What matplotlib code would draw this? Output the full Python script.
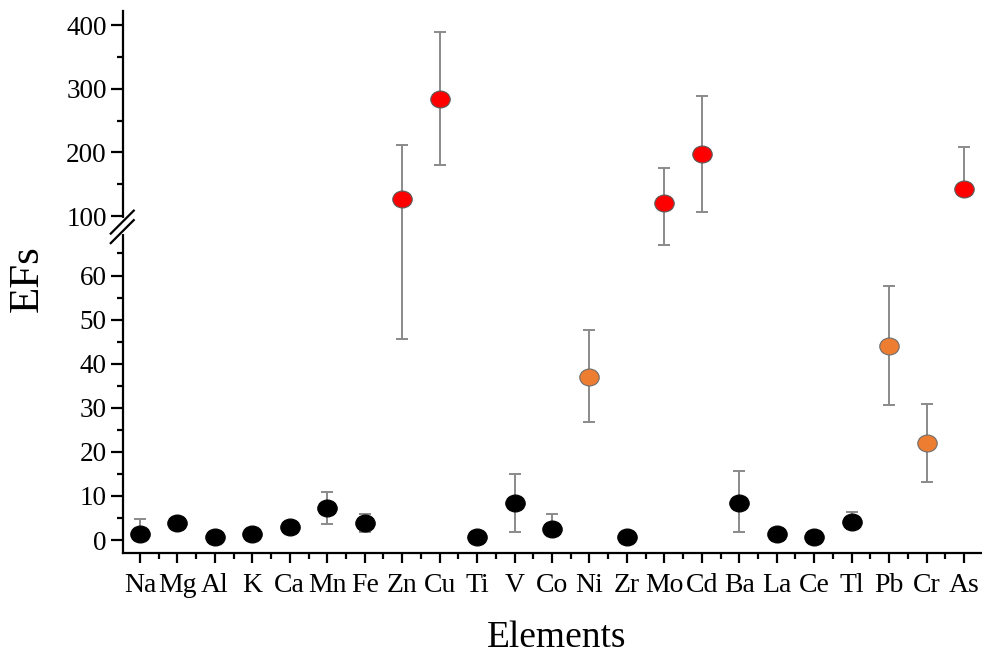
import numpy as np
import matplotlib
matplotlib.use('Agg')
import matplotlib.pyplot as plt
from matplotlib.path import Path
from matplotlib.ticker import FixedLocator

plt.rcParams['font.family'] = ['Liberation Serif', 'DejaVu Serif']

elements = ['Na', 'Mg', 'Al', 'K', 'Ca', 'Mn', 'Fe', 'Zn', 'Cu', 'Ti', 'V', 'Co',
            'Ni', 'Zr', 'Mo', 'Cd', 'Ba', 'La', 'Ce', 'Tl', 'Pb', 'Cr', 'As']
efMean = [1.4, 3.9, 0.75, 1.35, 3.0, 7.2, 3.8, 126.7, 283.8, 0.75, 8.5, 2.5,
          37.0, 0.75, 120.9, 197.8, 8.3, 1.3, 0.75, 4.0, 43.9, 21.9, 142.4]
errLow = [0, 0, 0, 0, 0, 3.6, 2.0, 81.0, 104.0, 0, 6.6, 0,
          10.2, 0, 54.0, 91.0, 6.5, 0, 0, 0, 13.3, 8.7, 0]
errHigh = [3.3, 0, 0, 0, 0, 3.8, 2.0, 85.0, 106.0, 0, 6.5, 3.3,
           10.6, 0, 55.0, 91.0, 7.4, 0, 0, 2.35, 13.8, 8.9, 65.5]
# enrichment level: 0 = low, 1 = significant, 2 = very high
level = [0, 0, 0, 0, 0, 0, 0, 2, 2, 0, 0, 0,
         1, 0, 2, 2, 0, 0, 0, 0, 1, 1, 2]

levelFace = {0: 'black', 1: '#ED7D31', 2: '#FF0000'}
levelEdge = {0: 'black', 1: '#6e6e6e', 2: '#5a5a5a'}

# broken y axis: linear up to the break, compressed above it
BREAK = 69.0
SQUEEZE = 0.1444


def forward(v):
    v = np.asarray(v, dtype=float)
    return np.where(v <= BREAK, v, BREAK + (v - BREAK) * SQUEEZE)


def inverse(t):
    t = np.asarray(t, dtype=float)
    return np.where(t <= BREAK, t, BREAK + (t - BREAK) / SQUEEZE)


# slightly flattened circle marker
circle = Path.unit_circle()
ellipse = Path(circle.vertices * np.array([1.0, 0.87]), circle.codes)

fig = plt.figure(figsize=(9.82, 6.56), dpi=100)
ax = fig.add_axes([0.125, 0.157, 0.875, 0.826])
ax.set_yscale('function', functions=(forward, inverse))

x = np.arange(len(elements))
ax.errorbar(x, efMean, yerr=[errLow, errHigh], fmt='none', ecolor='#8a8a8a',
            elinewidth=1.4, capsize=4, capthick=1.4, zorder=2)
for lvl in (0, 1, 2):
    idx = [i for i in range(len(elements)) if level[i] == lvl]
    ax.plot(x[idx], [efMean[i] for i in idx], linestyle='none', marker=ellipse,
            markersize=14, markerfacecolor=levelFace[lvl],
            markeredgecolor=levelEdge[lvl], markeredgewidth=0.8, zorder=3)

ax.set_xlim(-0.46, 22.48)
ax.set_ylim(-2.95, 422)

ax.set_xticks(x)
ax.set_xticklabels(elements)
ax.xaxis.set_minor_locator(FixedLocator(x[:-1] + 0.5))
ax.yaxis.set_major_locator(FixedLocator([0, 10, 20, 30, 40, 50, 60, 100, 200, 300, 400]))
ax.yaxis.set_minor_locator(FixedLocator([5, 15, 25, 35, 45, 55, 65, 150, 250, 350]))
ax.yaxis.set_major_formatter(plt.FuncFormatter(lambda v, p: '%d' % round(v)))

ax.tick_params(axis='x', which='major', length=7.5, width=1.6, labelsize=20, pad=7)
ax.tick_params(axis='x', which='minor', length=4, width=1.6)
ax.tick_params(axis='y', which='major', length=8.5, width=1.6, labelsize=19.5, pad=3)
ax.tick_params(axis='y', which='minor', length=4, width=1.6)

for side in ('top', 'right'):
    ax.spines[side].set_visible(False)
for side in ('left', 'bottom'):
    ax.spines[side].set_linewidth(1.6)

# break marks on the y axis
brk = ax.transData.transform((0, 100))[1]
yb = fig.transFigure.inverted().transform((0, brk))[1]
x0 = 0.125
def px(dx, dy):
    return x0 + dx / 982.0, yb + dy / 656.0
gapLo = px(0, -16)
gapHi = px(0, -4)
fig.add_artist(plt.Line2D([gapLo[0], gapHi[0]], [gapLo[1], gapHi[1]],
                          color='white', linewidth=3, zorder=5))
for off in (-5.5, -15):
    a = px(-12, off - 12)
    b = px(11, off + 11)
    fig.add_artist(plt.Line2D([a[0], b[0]], [a[1], b[1]],
                              color='black', linewidth=1.6, zorder=6))

fig.text(0.028, 0.575, 'EFs', rotation=90, ha='center', va='center', fontsize=31)
fig.text(0.567, 0.014, 'Elements', ha='center', va='baseline', fontsize=27)

fig.savefig('out.png', dpi=100)
